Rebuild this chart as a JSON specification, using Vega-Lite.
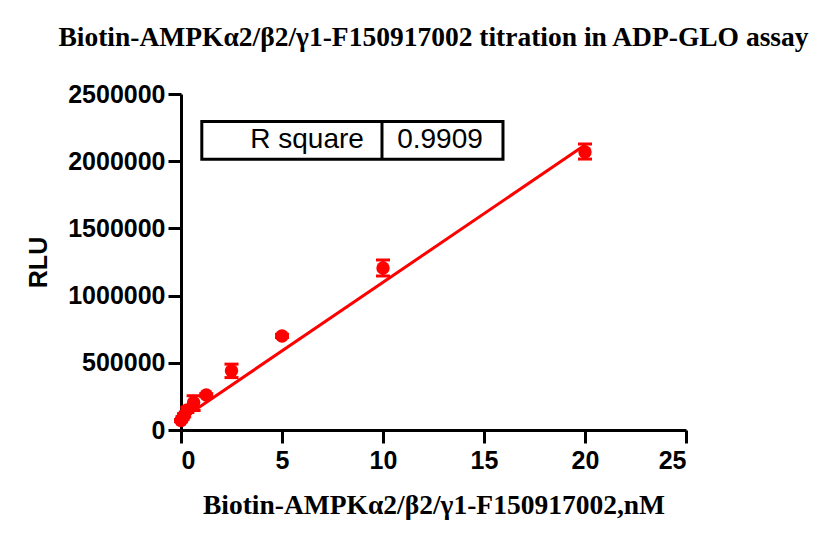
{
  "$schema": "https://vega.github.io/schema/vega-lite/v6.json",
  "autosize": "none",
  "width": 505,
  "height": 336,
  "padding": {"left": 181, "top": 94, "right": 150, "bottom": 116},
  "background": "white",
  "title": {
    "text": "Biotin-AMPKα2/β2/γ1-F150917002 titration in ADP-GLO assay",
    "font": "Liberation Serif",
    "fontSize": 27.5,
    "fontWeight": "bold",
    "color": "black",
    "anchor": "middle",
    "offset": 31
  },
  "config": {
    "view": {"stroke": null},
    "axis": {
      "grid": false,
      "domainColor": "black",
      "domainWidth": 3,
      "tickColor": "black",
      "tickWidth": 3,
      "tickSize": 13,
      "labelFont": "Liberation Sans",
      "labelFontWeight": "bold",
      "labelFontSize": 25,
      "labelColor": "black",
      "titleColor": "black"
    }
  },
  "datasets": {
    "points": [
      {"conc": 0, "rlu": 70000, "lo": 62000, "hi": 78000},
      {"conc": 0.078, "rlu": 90000, "lo": 80000, "hi": 100000},
      {"conc": 0.156, "rlu": 110000, "lo": 98000, "hi": 122000},
      {"conc": 0.3125, "rlu": 150000, "lo": 130000, "hi": 170000},
      {"conc": 0.625, "rlu": 205000, "lo": 145000, "hi": 255000},
      {"conc": 1.25, "rlu": 260000, "lo": 250000, "hi": 270000},
      {"conc": 2.5, "rlu": 440000, "lo": 390000, "hi": 490000},
      {"conc": 5, "rlu": 700000, "lo": 688000, "hi": 712000},
      {"conc": 10, "rlu": 1205000, "lo": 1146000, "hi": 1265000},
      {"conc": 20, "rlu": 2068000, "lo": 2016000, "hi": 2128000}
    ],
    "fit": [
      {"conc": 0, "rlu": 78000},
      {"conc": 20, "rlu": 2120000}
    ],
    "box": [
      {"x1": 1.03, "x2": 15.94, "y1": 2014000, "y2": 2296000}
    ],
    "cells": [
      {"x": 6.24, "y": 2158000, "label": "R square"},
      {"x": 12.82, "y": 2158000, "label": "0.9909"}
    ],
    "divider": [
      {"x": 9.95, "y1": 2014000, "y2": 2296000}
    ]
  },
  "layer": [
    {
      "data": {"name": "fit"},
      "mark": {"type": "line", "color": "#FF0000", "strokeWidth": 3},
      "encoding": {
        "x": {
          "field": "conc",
          "type": "quantitative",
          "scale": {"domain": [0, 25], "padding": 0, "nice": false},
          "axis": {
            "values": [0, 5, 10, 15, 20, 25],
            "title": "Biotin-AMPKα2/β2/γ1-F150917002,nM",
            "titleFont": "Liberation Serif",
            "titleFontSize": 27.5,
            "titleFontWeight": "bold",
            "titlePadding": 18,
            "labelPadding": 5
          }
        },
        "y": {
          "field": "rlu",
          "type": "quantitative",
          "title": "RLU",
          "scale": {"domain": [0, 2500000], "padding": 0, "nice": false},
          "axis": {
            "values": [0, 500000, 1000000, 1500000, 2000000, 2500000],
            "format": "d",
            "titleFont": "Liberation Sans",
            "titleFontSize": 25,
            "titleFontWeight": "bold",
            "titlePadding": 16,
            "labelPadding": 3
          }
        }
      }
    },
    {
      "data": {"name": "points"},
      "mark": {"type": "errorbar", "color": "#FF0000", "opacity": 1, "thickness": 3, "rule": {"opacity": 1}, "ticks": {"size": 14, "thickness": 3, "opacity": 1}},
      "encoding": {
        "x": {"field": "conc", "type": "quantitative", "title": "Biotin-AMPKα2/β2/γ1-F150917002,nM"},
        "y": {"field": "lo", "type": "quantitative", "title": "RLU"},
        "y2": {"field": "hi"}
      }
    },
    {
      "data": {"name": "points"},
      "mark": {"type": "point", "filled": true, "color": "#FF0000", "opacity": 1, "size": 180},
      "encoding": {
        "x": {"field": "conc", "type": "quantitative", "title": "Biotin-AMPKα2/β2/γ1-F150917002,nM"},
        "y": {"field": "rlu", "type": "quantitative", "title": "RLU"}
      }
    },
    {
      "data": {"name": "box"},
      "mark": {"type": "rect", "fill": "white", "stroke": "black", "strokeWidth": 3},
      "encoding": {
        "x": {"field": "x1", "type": "quantitative", "title": "Biotin-AMPKα2/β2/γ1-F150917002,nM"},
        "x2": {"field": "x2"},
        "y": {"field": "y1", "type": "quantitative", "title": "RLU"},
        "y2": {"field": "y2"}
      }
    },
    {
      "data": {"name": "divider"},
      "mark": {"type": "rule", "color": "black", "strokeWidth": 3},
      "encoding": {
        "x": {"field": "x", "type": "quantitative", "title": "Biotin-AMPKα2/β2/γ1-F150917002,nM"},
        "y": {"field": "y1", "type": "quantitative", "title": "RLU"},
        "y2": {"field": "y2"}
      }
    },
    {
      "data": {"name": "cells"},
      "mark": {"type": "text", "font": "Liberation Sans", "fontSize": 28, "color": "black", "align": "center", "baseline": "middle"},
      "encoding": {
        "x": {"field": "x", "type": "quantitative", "title": "Biotin-AMPKα2/β2/γ1-F150917002,nM"},
        "y": {"field": "y", "type": "quantitative", "title": "RLU"},
        "text": {"field": "label"}
      }
    }
  ]
}
